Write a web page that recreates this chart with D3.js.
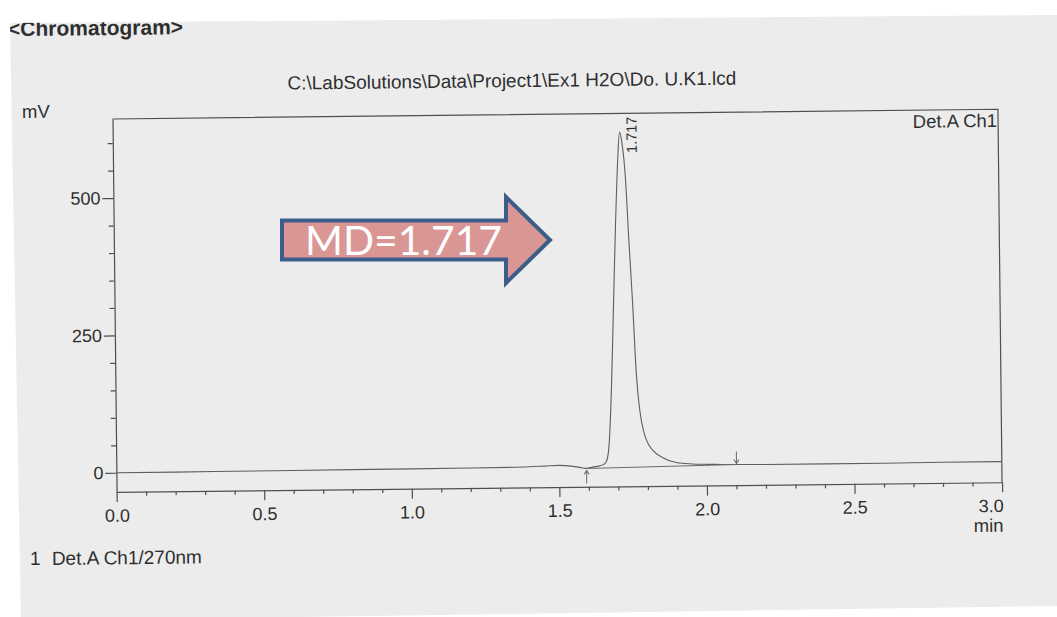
<!DOCTYPE html>
<html>
<head>
<meta charset="utf-8">
<script src="https://cdn.jsdelivr.net/npm/d3@7"></script>
<style>
  html, body { margin: 0; padding: 0; background: #ffffff; }
  svg { display: block; }
  text { font-family: "Liberation Sans", Arial, sans-serif; fill: #2f2f2f; }
</style>
</head>
<body>
<svg id="chart" width="1057" height="617"></svg>
<script>
// Detector trace, Det.A Ch1 at 270 nm: retention time (min) and signal (mV)
const timeMin = [0.00, 0.20, 0.40, 0.60, 0.80, 1.00, 1.20, 1.35, 1.45, 1.50, 1.54, 1.57, 1.59,
                 1.61, 1.63, 1.65, 1.66, 1.67, 1.68, 1.69, 1.70, 1.71, 1.717, 1.725, 1.735,
                 1.745, 1.755, 1.765, 1.775, 1.79, 1.80, 1.82, 1.85, 1.90, 1.95, 2.00, 2.05,
                 2.10, 2.20, 2.40, 2.60, 2.80, 3.00];
const signalMV = [0, 0, 0.3, 0.6, 0.9, 1.2, 1.5, 2, 3.5, 4.5, 3, 0.5, -1.5,
                  0.5, 2, 5, 10, 40, 140, 290, 440, 560, 610, 590, 530,
                  410, 300, 170, 105, 60, 45, 29, 17, 7, 4.5, 3.5, 3,
                  2.5, 2, 2, 2, 2.5, 2.5];

// Integrated peak: apex label, start and end of the drawn baseline
const peakTimes = [1.717];
const peakLabels = ["1.717"];
const peakStartTime = [1.593];
const peakStartMV = [-1.5];
const peakEndTime = [2.101];
const peakEndMV = [2.5];

// Axes
const xDomain = [0, 3];
const yDomain = [-35, 644];
const xTicks = [0, 0.5, 1.0, 1.5, 2.0, 2.5, 3.0];
const xTickLabels = ["0.0", "0.5", "1.0", "1.5", "2.0", "2.5", "3.0"];
const xMinorTicks = [0.1, 0.2, 0.3, 0.4, 0.6, 0.7, 0.8, 0.9, 1.1, 1.2, 1.3, 1.4, 1.6, 1.7, 1.8, 1.9,
                     2.1, 2.2, 2.3, 2.4, 2.6, 2.7, 2.8, 2.9];
const yTicks = [0, 250, 500];
const yTickLabels = ["0", "250", "500"];
const yMinorTicks = [50, 100, 150, 200, 300, 350, 400, 450, 550, 600];

// Annotation
const annotationText = "MD=1.717";

const svg = d3.select("#chart");
const INK = "#4f4f4f";

// Sheet of paper, slightly tilted on the scanner glass
const sheet = [[10, 23], [1057, 15], [1057, 606], [21, 621]];
svg.append("defs").append("clipPath").attr("id", "sheetClip")
  .append("polygon").attr("points", sheet.map(p => p.join(",")).join(" "));
svg.append("polygon")
  .attr("points", sheet.map(p => p.join(",")).join(" "))
  .attr("fill", "#ececec");

const page = svg.append("g").attr("clip-path", "url(#sheetClip)")
  .append("g").attr("transform", "rotate(-0.63,112,119)");

const plotLeft = 112.5, plotRight = 998, plotTop = 119, plotBottom = 492;
const x = d3.scaleLinear().domain(xDomain).range([plotLeft, plotRight]);
const y = d3.scaleLinear().domain(yDomain).range([plotBottom, plotTop]);

// Header texts
page.append("text").attr("x", 9).attr("y", 35)
  .style("font-size", "21px").style("font-weight", "bold")
  .text("<Chromatogram>");
page.append("text").attr("x", (plotLeft + plotRight) / 2 - 43).attr("y", 91.5)
  .attr("text-anchor", "middle").style("font-size", "19px")
  .text("C:\\LabSolutions\\Data\\Project1\\Ex1 H2O\\Do. U.K1.lcd");
page.append("text").attr("x", 22).attr("y", 117)
  .style("font-size", "18.5px").text("mV");

// Frame: top and right edges
page.append("path")
  .attr("d", `M${plotLeft},${plotTop}H${plotRight}V${plotBottom}`)
  .attr("fill", "none").attr("stroke", INK).attr("stroke-width", 1.2);

// Y axis
page.append("g").attr("transform", `translate(${plotLeft},0)`)
  .call(d3.axisLeft(y).tickValues(yTicks).tickSize(11).tickPadding(2)
    .tickSizeOuter(0).tickFormat((d, i) => yTickLabels[i]));
page.append("g").attr("transform", `translate(${plotLeft},0)`)
  .call(d3.axisLeft(y).tickValues(yMinorTicks).tickSize(5).tickFormat(""))
  .call(g => g.select(".domain").remove());

// X axis
const xAxis = page.append("g").attr("transform", `translate(0,${plotBottom})`)
  .call(d3.axisBottom(x).tickValues(xTicks).tickSize(10).tickPadding(7)
    .tickSizeOuter(0).tickFormat((d, i) => xTickLabels[i]));
page.append("g").attr("transform", `translate(0,${plotBottom})`)
  .call(d3.axisBottom(x).tickValues(xMinorTicks).tickSize(4).tickFormat(""))
  .call(g => g.select(".domain").remove());

page.selectAll(".tick line, .domain").attr("stroke", INK).attr("stroke-width", 1.2);
page.selectAll(".tick text").style("font-size", "18px").attr("fill", "#2f2f2f")
  .style("font-family", "\"Liberation Sans\", Arial, sans-serif");
// last time label sits flush with the right edge
xAxis.selectAll(".tick text").filter((d, i) => i === xTicks.length - 1)
  .attr("text-anchor", "end").attr("dx", 1);

page.append("text").attr("x", plotRight + 1).attr("y", plotBottom + 49.5)
  .attr("text-anchor", "end").style("font-size", "18.5px").text("min");
page.append("text").attr("x", plotRight - 1).attr("y", plotTop + 17.7)
  .attr("text-anchor", "end").style("font-size", "18.5px").text("Det.A Ch1");

// Trace
const trace = timeMin.map((t, i) => [t, signalMV[i]]);
page.append("path")
  .datum(trace)
  .attr("fill", "none").attr("stroke", "#5e5e5e").attr("stroke-width", 1.1)
  .attr("d", d3.line().x(d => x(d[0])).y(d => y(d[1])).curve(d3.curveMonotoneX));

// Peak baseline and its start / end markers
peakTimes.forEach((pt, i) => {
  const xs = x(peakStartTime[i]), ys = y(peakStartMV[i]);
  const xe = x(peakEndTime[i]), ye = y(peakEndMV[i]);
  page.append("line").attr("x1", xs).attr("y1", ys).attr("x2", xe).attr("y2", ye)
    .attr("stroke", "#6a6a6a").attr("stroke-width", 1);
  page.append("path")
    .attr("d", `M${xs},${ys + 15}V${ys + 2}M${xs - 2.5},${ys + 6}L${xs},${ys + 2}L${xs + 2.5},${ys + 6}`)
    .attr("fill", "none").attr("stroke", "#6a6a6a").attr("stroke-width", 1);
  page.append("path")
    .attr("d", `M${xe},${ye - 13}V${ye - 1}M${xe - 2.5},${ye - 5}L${xe},${ye - 1}L${xe + 2.5},${ye - 5}`)
    .attr("fill", "none").attr("stroke", "#6a6a6a").attr("stroke-width", 1);

  const apexV = d3.max(trace.filter(d => Math.abs(d[0] - pt) < 0.02), d => d[1]);
  page.append("text")
    .attr("transform", `translate(${x(pt) + 17},${y(apexV) + 21}) rotate(-90)`)
    .style("font-size", "14.5px").text(peakLabels[i]);
});

// Channel legend
page.append("text").attr("x", 25).attr("y", 564).style("font-size", "19px").text("1");
page.append("text").attr("x", 47).attr("y", 564.3).style("font-size", "19px").text("Det.A Ch1/270nm");

// Block-arrow callout
const ay = 240, bodyH = 19.5, headH = 43;
const ax0 = 282, axHead = 506, axTip = 550;
svg.append("path")
  .attr("d", `M${ax0},${ay - bodyH}H${axHead}V${ay - headH}L${axTip},${ay}L${axHead},${ay + headH}V${ay + bodyH}H${ax0}Z`)
  .attr("fill", "#d99694").attr("stroke", "#3a5d8a").attr("stroke-width", 4)
  .attr("stroke-linejoin", "miter");
svg.append("text").attr("x", 305).attr("y", 255)
  .attr("textLength", 197).attr("lengthAdjust", "spacingAndGlyphs")
  .style("font-family", "Lato, 'Open Sans', sans-serif").style("font-size", "40px")
  .style("fill", "#ffffff")
  .text(annotationText);
</script>
</body>
</html>
